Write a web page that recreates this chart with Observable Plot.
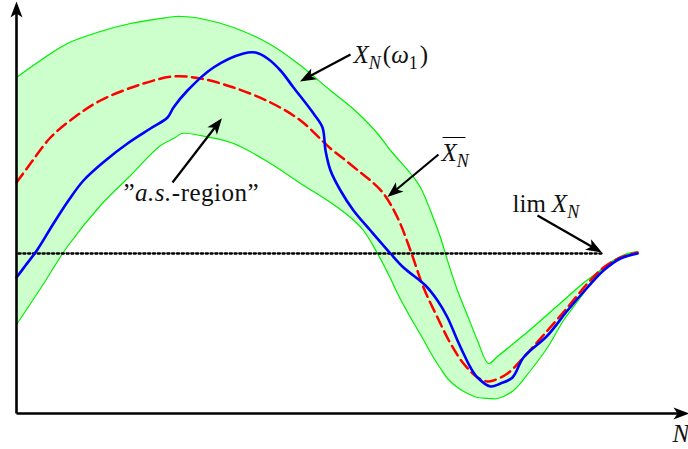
<!DOCTYPE html>
<html><head><meta charset="utf-8">
<script src="https://cdn.jsdelivr.net/npm/d3@7"></script>
<script src="https://cdn.jsdelivr.net/npm/@observablehq/plot@0.6"></script>
<style>html,body{margin:0;padding:0;background:#fff;overflow:hidden}</style>
</head><body><div id="chart"></div>
<script>
// ---- data (abstract units: N along the horizontal axis, X along the vertical) ----
const bandN     = [0,24,51,84,114,144,159,165,184,217,254,284,314,334,347,361,374,381,394,404,417,424,431,441,451,461,472,481,497,514,531,547,564,581,597,611,621];
const bandUpper = [336,353,370,382,390,395,397,397,395,386,369,348,323,307,295,280,263,255,240,226,195,176,153,123,98,73,50,57,70,84,99,113,128,141,153,160,162];
const bandLower = [89,125,167,208,238,268,276,280,278,270,250,230,211,196,183,160,135,120,96,79,56,45,35,26,20,16,15,15,23,43,66,93,116,140,153,159,161];

const meanN = [0,14,34,59,84,124,157,184,217,254,284,314,328,344,354,367,381,394,407,421,434,447,461,471,477,491,507,531,551,571,587,604,621];
const meanX = [231,250,276,297,313,329,337,335,326,311,293,265,254,241,233,220,196,163,126,96,70,50,36,32,33,40,56,83,106,130,146,156,161];

const pathN = [0,9,21,37,52,67,89,111,134,151,157,171,197,227,239,251,264,277,297,306,309,314,324,337,354,374,387,409,421,431,441,447,454,461,474,484,496,507,531,551,571,587,604,621];
const pathX = [136,148,164,190,213,233,253,270,285,296,306,323,346,360,361,355,343,326,300,286,263,243,223,203,183,160,146,128,113,96,73,60,46,36,27,30,36,56,78,103,126,143,155,160];

const limitValue = 160;
const limitSpan  = [2, 585];

const axisLength = {N: 669, X: 408};

const arrowTail = [[334,359],[156,231],[422,259],[521,198]];
const arrowHead = [[287,334],[203,292],[374,219],[582,163]];

const labelKeys = ["XN","AS","XBAR","LIM","NAX"];
const labelPos  = [[337,351],[107,213],[425,253],[496,202],[656,-28]];
const overlineN = [426,449];
const overlineX = 276;

// rich text pieces for each label
const labelParts = {
  XN:   [["X","i"],["N","sub"],["(","r",2],["\u03C9","i"],["1","subr"],[")","r",2]],
  AS:   [["\u201D","r"],["a.s.","i"],["-region\u201D","r"]],
  XBAR: [["X","i"],["N","sub"]],
  LIM:  [["lim","r"],["X","i",6],["N","sub"]],
  NAX:  [["N","i"]]
};

// ---- tables for Plot ----
const band  = bandN.map((n,i)=>({n, lo: bandLower[i], hi: bandUpper[i]}));
const mean  = meanN.map((n,i)=>({n, x: meanX[i]}));
const path  = pathN.map((n,i)=>({n, x: pathX[i]}));
const limit = limitSpan.map(n=>({n, x: limitValue}));
const axes  = [{x1:0,y1:0,x2:axisLength.N,y2:0},{x1:0,y1:0,x2:0,y2:axisLength.X}];
const arrows = arrowTail.map((t,i)=>({x1:t[0],y1:t[1],x2:arrowHead[i][0],y2:arrowHead[i][1]}));
const labels = labelKeys.map((k,i)=>({key:k, n:labelPos[i][0], x:labelPos[i][1]}));
const overline = [{x1:overlineN[0], x2:overlineN[1], y:overlineX}];

const serif = "'Liberation Serif', 'Times New Roman', serif";
const curve = "catmull-rom";

const chart = Plot.plot({
  width: 688, height: 449, margin: 0,
  x: {domain: [-16, 672], range: [0, 688], axis: null},
  y: {domain: [-36, 413], range: [449, 0], axis: null},
  style: {background: "white", overflow: "visible", fontFamily: serif},
  marks: [
    Plot.areaY(band, {x:"n", y1:"lo", y2:"hi", fill:"#ccffcc", curve}),
    Plot.line(band, {x:"n", y:"hi", stroke:"#00ee00", strokeWidth:1.2, curve}),
    Plot.line(band, {x:"n", y:"lo", stroke:"#00ee00", strokeWidth:1.2, curve}),
    Plot.line(limit, {x:"n", y:"x", stroke:"black", strokeWidth:2.3, strokeDasharray:"2.2,2.6"}),
    Plot.line(mean, {x:"n", y:"x", stroke:"#ff0000", strokeWidth:2.5, strokeDasharray:"11,5.5", curve}),
    Plot.line(path, {x:"n", y:"x", stroke:"#0000ff", strokeWidth:2.6, curve}),
    Plot.link(axes, {x1:"x1", y1:"y1", x2:"x2", y2:"y2", stroke:"#010101", strokeWidth:2.6}),
    Plot.link(arrows, {x1:"x1", y1:"y1", x2:"x2", y2:"y2", stroke:"#010101", strokeWidth:2.2}),
    Plot.link(overline, {x1:"x1", x2:"x2", y1:"y", y2:"y", stroke:"black", strokeWidth:1}),
    Plot.text(labels, {x:"n", y:"x", text:"key", textAnchor:"start", lineAnchor:"bottom",
      fontSize:25, fontFamily: serif, fill:"#111"})
  ]
});
document.getElementById("chart").appendChild(chart);

// arrowheads (filled stealth tips) on arrow links
const svg = d3.select(chart);
const defs = svg.insert("defs", ":first-child");
defs.append("marker").attr("id","stealth").attr("markerUnits","userSpaceOnUse")
  .attr("orient","auto").attr("overflow","visible")
  .attr("markerWidth",1).attr("markerHeight",1).attr("refX",0).attr("refY",0)
  .append("path").attr("d","M4,0L-12,-6L-8,0L-12,6Z").attr("fill","black");
svg.selectAll('g[stroke="#010101"] path').attr("marker-end","url(#stealth)");

// rich math-like labels
svg.selectAll("text").each(function(){
  const key = this.textContent.trim();
  const parts = labelParts[key];
  if (!parts) return;
  const t = d3.select(this);
  t.text(null).style("font-family", serif);
  if (key === "AS") t.style("letter-spacing", "0.5px");
  let shift = 0;
  for (const [s, kind, dx] of parts) {
    const sub = kind === "sub" || kind === "subr";
    const target = sub ? 6 : 0;
    const sp = t.append("tspan").text(s)
      .style("font-family", serif)
      .style("font-style", (kind === "i" || kind === "sub") ? "italic" : "normal")
      .style("font-size", (sub ? 18 : 25) + "px");
    if (target !== shift) { sp.attr("dy", target - shift); shift = target; }
    if (dx) sp.attr("dx", dx);
  }
});
</script>
</body></html>
